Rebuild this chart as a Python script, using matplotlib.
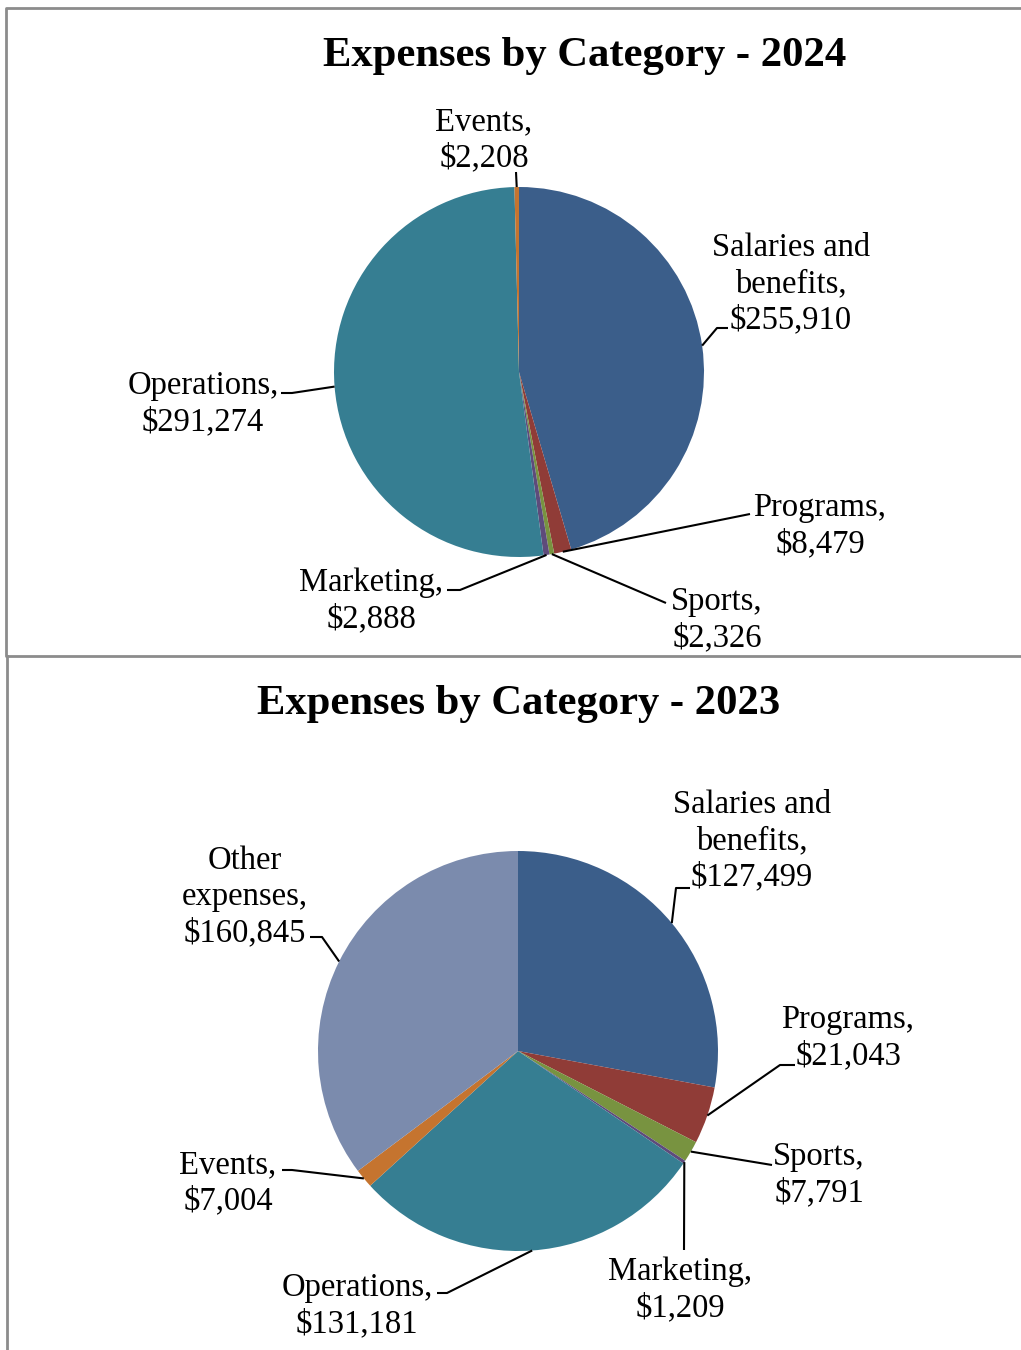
import matplotlib.pyplot as plt
import numpy as np

# 2024
cats_2024 = ["Salaries and\nbenefits", "Programs", "Sports", "Marketing", "Operations", "Events"]
vals_2024 = [255910, 8479, 2326, 2888, 291274, 2208]
# 2023
cats_2023 = ["Salaries and\nbenefits", "Programs", "Sports", "Marketing", "Operations", "Events", "Other\nexpenses"]
vals_2023 = [127499, 21043, 7791, 1209, 131181, 7004, 160845]

colors = {
    "Salaries and\nbenefits": "#3b5e8a",
    "Programs": "#903c37",
    "Sports": "#789340",
    "Marketing": "#5e4b7b",
    "Operations": "#367e92",
    "Events": "#c5742f",
    "Other\nexpenses": "#7b8bad",
}

W, H = 1021, 1350
fig = plt.figure(figsize=(W / 100, H / 100), dpi=100)
ax = fig.add_axes([0, 0, 1, 1])
plt.rcParams["font.family"] = "Liberation Serif"


def py(y):
    # pixel (top-down) -> data (bottom-up)
    return H - y


def draw_pie(cats, vals, cx, cy, r, labels):
    ax.pie(vals, colors=[colors[c] for c in cats], startangle=90, counterclock=False,
           center=(cx, py(cy)), radius=r, wedgeprops=dict(linewidth=0))
    total = float(sum(vals))
    start = 0.0
    for c, v in zip(cats, vals):
        span = v / total * 360
        mid = np.deg2rad(start + span / 2)
        start += span
        ex, ey = cx + r * np.sin(mid), cy - r * np.cos(mid)
        (pts, tx, ty, ha) = labels[c]
        xs = [ex] + [p[0] for p in pts]
        ys = [ey] + [p[1] for p in pts]
        ax.plot(xs, [py(y) for y in ys], color="black", lw=1.5, solid_capstyle="butt")
        txt = c + ",\n$" + f"{v:,}"
        ax.text(tx, py(ty + 3), txt, ha=ha, va="center", fontsize=23.5, linespacing=1.25,
                multialignment="center")


lab_2024 = {
    "Events": ([(516, 172)], 484, 137, "center"),
    "Salaries and\nbenefits": ([(717, 328), (728, 328)], 791, 281, "center"),
    "Programs": ([(750, 514)], 820, 523, "center"),
    "Sports": ([(666, 603)], 717, 617, "center"),
    "Marketing": ([(460, 590), (447, 590)], 371, 598, "center"),
    "Operations": ([(292, 393), (281, 393)], 203, 401, "center"),
}
lab_2023 = {
    "Salaries and\nbenefits": ([(676, 888), (690, 888)], 752, 838, "center"),
    "Programs": ([(780, 1065), (795, 1065)], 848, 1035, "center"),
    "Sports": ([(772, 1165)], 819, 1172, "center"),
    "Marketing": ([(684, 1250)], 680, 1287, "center"),
    "Operations": ([(447, 1293), (437, 1293)], 357, 1303, "center"),
    "Events": ([(292, 1170), (282, 1170)], 228, 1180, "center"),
    "Other\nexpenses": ([(322, 937), (310, 937)], 245, 894, "center"),
}

draw_pie(cats_2024, vals_2024, 519, 372, 185, lab_2024)
draw_pie(cats_2023, vals_2023, 518, 1051, 200, lab_2023)

ax.text(585, py(56), "Expenses by Category - 2024", ha="center", va="center",
        fontsize=30.7, fontweight="bold")
ax.text(519, py(704), "Expenses by Category - 2023", ha="center", va="center",
        fontsize=30.7, fontweight="bold")

# frames round the two charts
gray = "#8c8c8c"
ax.plot([W, 6, 6, W], [py(8), py(8), py(656), py(656)], color=gray, lw=2)
ax.plot([7, 7], [py(656), py(H)], color=gray, lw=2)

ax.set_xlim(0, W)
ax.set_ylim(0, H)
ax.set_aspect("auto")
ax.axis("off")

plt.savefig("out.png", dpi=100)
